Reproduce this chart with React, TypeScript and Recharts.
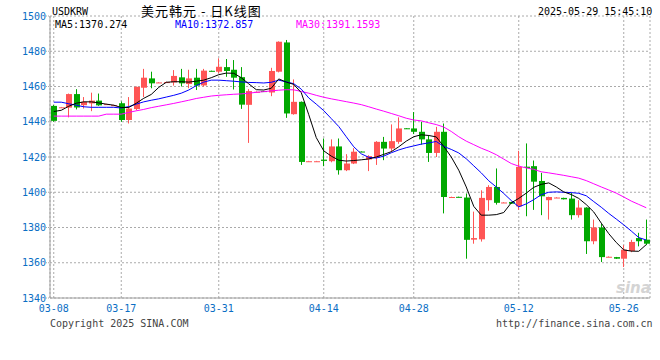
import React from 'react';
import { ComposedChart, Bar, Line, XAxis, YAxis, CartesianGrid } from 'recharts';

// 日K: one candle per day, weekends kept as flat candles
const DATES = [
  '03-08', '03-09', '03-10', '03-11', '03-12', '03-13', '03-14', '03-15', '03-16', '03-17',
  '03-18', '03-19', '03-20', '03-21', '03-22', '03-23', '03-24', '03-25', '03-26', '03-27',
  '03-28', '03-29', '03-31', '04-01', '04-02', '04-03', '04-04', '04-05', '04-06', '04-07',
  '04-08', '04-09', '04-10', '04-11', '04-12', '04-13', '04-14', '04-15', '04-16', '04-17',
  '04-18', '04-19', '04-21', '04-22', '04-23', '04-24', '04-25', '04-26', '04-28', '04-29',
  '04-30', '05-01', '05-02', '05-03', '05-04', '05-05', '05-06', '05-07', '05-08', '05-09',
  '05-10', '05-11', '05-12', '05-13', '05-14', '05-15', '05-16', '05-17', '05-18', '05-19',
  '05-20', '05-21', '05-22', '05-23', '05-24', '05-25', '05-26', '05-27', '05-28', '05-29',
];

const OPEN = [
  1449, 1448.2, 1448, 1455.7, 1449.4, 1450.4, 1452, 1450, 1449.4, 1450.5,
  1441, 1447.2, 1459.3, 1464.6, 1462.3, 1462.5, 1462.3, 1465.2, 1461.4, 1465,
  1460.6, 1468.9, 1468.4, 1471, 1469.5, 1465.3, 1449.6, 1457, 1457.4, 1456.6,
  1468.4, 1485, 1444.3, 1451.3, 1417.6, 1417.6, 1418.5, 1417.6, 1426, 1412.5,
  1416.3, 1423.1, 1418.6, 1419.7, 1428.6, 1424.8, 1428.6, 1436.3, 1436.2, 1434.3,
  1430, 1422.3, 1434.3, 1397.3, 1397.4, 1397, 1373.1, 1373.3, 1395.5, 1403,
  1394.2, 1394.5, 1392, 1414.5, 1414.8, 1406.4, 1395.5, 1397, 1396.8, 1396.4,
  1387, 1391.3, 1372.2, 1380, 1363.4, 1363.2, 1362.3, 1366.7, 1374, 1373.1,
];

const CLOSE = [
  1440.5, 1448.2, 1455.7, 1448.1, 1451.3, 1452, 1449.3, 1450, 1449.4, 1441,
  1447.5, 1459.8, 1465, 1461.8, 1462.3, 1462.5, 1466, 1461.8, 1464.6, 1460.5,
  1469, 1468.7, 1471.2, 1468.8, 1465, 1449.7, 1457.4, 1457, 1457.2, 1468.8,
  1485.4, 1444.7, 1451.3, 1417.2, 1417.6, 1417.6, 1417.8, 1426, 1412.5, 1416.3,
  1423, 1422.9, 1420.5, 1428.6, 1424.8, 1429, 1436.2, 1436.1, 1434.3, 1430,
  1422.3, 1434.3, 1397.3, 1397.3, 1397.2, 1373, 1374, 1396.8, 1403, 1394,
  1394.2, 1393.5, 1414.4, 1413.8, 1406, 1397.7, 1397.3, 1397, 1396, 1387,
  1391.3, 1372.2, 1380, 1363.2, 1363.4, 1362.3, 1367.4, 1371.8, 1372.2, 1370.8,
];

const HIGH = [
  1449.5, 1448.4, 1456, 1458.5, 1454, 1456.5, 1456, 1450.2, 1449.6, 1451.5,
  1454, 1460, 1470, 1468.4, 1462.5, 1462.7, 1469.3, 1470, 1469.5, 1470,
  1470, 1469, 1476, 1475.6, 1475, 1471, 1458.5, 1457.2, 1457.5, 1470.6,
  1485.6, 1486.4, 1464, 1451.5, 1417.8, 1417.8, 1430.5, 1430, 1430.5, 1421.6,
  1425, 1423.2, 1421, 1429, 1431.4, 1438.5, 1442.5, 1436.4, 1445.5, 1440,
  1432.4, 1437.1, 1439, 1397.5, 1397.5, 1399.3, 1389, 1401.1, 1404, 1413.5,
  1394.4, 1394.6, 1423.5, 1427.7, 1418, 1411, 1397.5, 1397.2, 1396.9, 1399.6,
  1395.5, 1391.5, 1384.5, 1382, 1363.6, 1363.3, 1370, 1373, 1377, 1384.5,
];

const LOW = [
  1440, 1448, 1442.5, 1447, 1447.5, 1446, 1449, 1449.8, 1449.2, 1440,
  1439, 1446.5, 1454, 1459, 1462.1, 1462.3, 1460.5, 1460, 1459, 1458,
  1460, 1468.6, 1467.5, 1465.5, 1458.3, 1447.3, 1428, 1456.8, 1457.1, 1454.5,
  1468, 1442.2, 1444, 1415.5, 1417.4, 1417.4, 1414.8, 1417, 1410, 1412,
  1416, 1422.8, 1412, 1415.5, 1418.2, 1423, 1427.5, 1436, 1433, 1427,
  1417.2, 1420, 1388, 1397.1, 1397.1, 1362.3, 1370.8, 1372, 1389.5, 1393,
  1394, 1393.4, 1390, 1386.4, 1390, 1387, 1384.5, 1396.8, 1395.9, 1384.5,
  1385.6, 1365, 1370.5, 1360.4, 1363.2, 1362.2, 1357.6, 1366, 1369.3, 1370,
];

const MA5 = [
  1445.8, 1446.5, 1448.8, 1450.5, 1451.3, 1451.3, 1450.7, 1450, 1449.4, 1448.1,
  1448.1, 1450.5, 1453.3, 1455.5, 1459.5, 1462.4, 1462.7, 1462.7, 1462.5, 1463,
  1463.6, 1465, 1466.7, 1467.6, 1467.5, 1465, 1461.5, 1458.2, 1458, 1459,
  1464.3, 1462.5, 1461.2, 1456.5, 1444, 1431, 1423.5, 1420.5, 1418.2, 1417.7,
  1418, 1418.4, 1418.9, 1420, 1421.5, 1423, 1425.8, 1429, 1431.5, 1432.6,
  1432.2, 1431.4, 1426, 1420, 1412.5, 1403, 1392, 1387, 1387, 1387.3,
  1388.5, 1394, 1396.5, 1399.5, 1402.8, 1404.5, 1405.3, 1403, 1400.2, 1398.7,
  1396.5, 1393, 1388.8, 1382.5, 1376.5, 1371.5, 1367.3, 1366.6, 1366.5, 1370.3,
];

const MA10 = [
  1451.1, 1451.1, 1450.2, 1449.4, 1448.5, 1448.2, 1448.2, 1448.2, 1448.2, 1447.8,
  1448.6, 1450, 1451.3, 1452.2, 1453, 1454, 1455, 1456.2, 1458, 1460.5,
  1462.5, 1463.6, 1463.6, 1463.3, 1463, 1462.6, 1462.3, 1462.2, 1462, 1462.4,
  1463.6, 1462.6, 1461.6, 1458.5, 1453.5, 1450, 1446.3, 1441.8, 1437.3, 1431.5,
  1425.8, 1421.8, 1419.8, 1419.4, 1420.5, 1422.4, 1424, 1425.3, 1426.3, 1427.3,
  1428, 1428.8, 1426, 1424.3, 1422.3, 1419, 1415, 1411, 1406.5, 1403,
  1399.3, 1395.3, 1391.7, 1393.4, 1395.8, 1398.6, 1400, 1400.2, 1400, 1399.8,
  1399.4, 1398, 1394.7, 1391.5, 1388, 1384.8, 1381.5, 1378, 1374.3, 1372.9,
];

const MA30 = [
  1443.2, 1443.2, 1443.2, 1443.2, 1443.2, 1443.2, 1443.2, 1444.3, 1444.3, 1444.3,
  1445.3, 1446.2, 1447, 1448, 1448.8, 1449.6, 1450.4, 1451.3, 1452.2, 1453.2,
  1453.9, 1454.6, 1455, 1455.3, 1455.6, 1455.8, 1456.2, 1456.7, 1457.1, 1457.5,
  1457.9, 1458.2, 1458.1, 1457.2, 1456.2, 1455, 1453.9, 1453, 1452.2, 1451.4,
  1450.6, 1449.7, 1448.5, 1447.2, 1446, 1444.7, 1443.4, 1442, 1441, 1440.5,
  1439.4, 1438.4, 1437, 1434.5, 1431.5, 1429, 1427, 1425, 1423.3, 1421.3,
  1418.8, 1416.3, 1414.8, 1413.8, 1413, 1411.6, 1411, 1410.3, 1409.6, 1408.8,
  1408, 1406.6, 1404.8, 1403, 1401.3, 1399.5, 1397.3, 1395, 1393.1, 1391.2,
];

const TICK_DATES = ['03-08', '03-17', '03-31', '04-14', '04-28', '05-12', '05-26'];
const Y_TICKS = [1340, 1360, 1380, 1400, 1420, 1440, 1460, 1480, 1500];

const RED = '#ff5555';
const GREEN = '#00a800';
const LABEL_BLUE = '#0a6ec4';
const FRAME = '#a0a0a0';
const MONO = '"DejaVu Sans Mono", monospace';

const rows = DATES.map((date, i) => ({
  i,
  date,
  open: OPEN[i],
  close: CLOSE[i],
  high: HIGH[i],
  low: LOW[i],
  range: [LOW[i], HIGH[i]],
  ma5: MA5[i],
  ma10: MA10[i],
  ma30: MA30[i],
}));

const tickIdx = TICK_DATES.map((d) => DATES.indexOf(d));

const Candle = (props: any) => {
  const { x, y, width, height, payload } = props;
  if (!payload || x == null) return null;
  const { open, close, high, low } = payload;
  const color = close >= open ? RED : GREEN;
  const top = height < 0 ? y + height : y;
  const h = Math.abs(height);
  const k = high > low ? h / (high - low) : 0;
  const yo = top + (high - open) * k;
  const yc = top + (high - close) * k;
  const bodyTop = Math.min(yo, yc);
  const bodyH = Math.max(Math.abs(yo - yc), 1);
  const left = Math.round(x);
  const cx = left + Math.floor(width / 2) - 0.5;
  return (
    <g>
      <line x1={cx} x2={cx} y1={top} y2={top + h} stroke={color} strokeWidth={1} />
      <rect x={left} y={bodyTop} width={Math.round(width)} height={bodyH} fill={color} />
    </g>
  );
};

const txt = (extra: React.CSSProperties): React.CSSProperties => ({
  position: 'absolute',
  fontFamily: MONO,
  fontSize: 10,
  lineHeight: '10px',
  whiteSpace: 'pre',
  ...extra,
});

export default function App() {
  return (
    <div style={{ position: 'absolute', left: 0, top: 0, width: 660, height: 360, background: '#fff' }}>
      <ComposedChart
        width={660}
        height={360}
        data={rows}
        margin={{ top: 16, right: 10, bottom: 0, left: 0 }}
      >
        <CartesianGrid stroke="#aaa" strokeDasharray="2 2" />
        <XAxis
          dataKey="i"
          type="number"
          domain={[-0.5, DATES.length - 0.5]}
          ticks={tickIdx}
          interval={0}
          tickFormatter={(v: number) => DATES[v]}
          height={62}
          tickLine={false}
          tickSize={4}
          tickMargin={3}
          allowDataOverflow
          axisLine={{ stroke: FRAME }}
          tick={{ fill: LABEL_BLUE, fontSize: 10, fontFamily: MONO }}
        />
        <XAxis
          xAxisId="top"
          orientation="top"
          type="number"
          domain={[-0.5, DATES.length - 0.5]}
          height={0}
          tick={false}
          tickLine={false}
          allowDataOverflow
          axisLine={{ stroke: FRAME }}
        />
        <YAxis
          domain={[1340, 1500]}
          ticks={Y_TICKS}
          interval={0}
          width={50}
          tickSize={4}
          tickMargin={0}
          allowDataOverflow
          tickLine={{ stroke: '#aaa', strokeDasharray: '1 1' }}
          axisLine={{ stroke: FRAME }}
          tick={{ fill: LABEL_BLUE, fontSize: 10, fontFamily: MONO }}
        />
        <YAxis
          yAxisId="right"
          orientation="right"
          domain={[1340, 1500]}
          width={0}
          tick={false}
          tickLine={false}
          axisLine={{ stroke: FRAME }}
        />
        <Bar dataKey="range" barSize={6} shape={(p: any) => <Candle {...p} />} isAnimationActive={false} />
        <Line dataKey="ma30" stroke="#ff00ff" strokeWidth={1} dot={false} activeDot={false} isAnimationActive={false} />
        <Line dataKey="ma10" stroke="#0000ff" strokeWidth={1} dot={false} activeDot={false} isAnimationActive={false} />
        <Line dataKey="ma5" stroke="#000000" strokeWidth={1} dot={false} activeDot={false} isAnimationActive={false} />
      </ComposedChart>

      <div style={txt({ left: 52, top: 7, color: '#000' })}>USDKRW</div>
      <div
        style={{
          position: 'absolute',
          left: 141,
          top: 4,
          fontFamily: '"Noto Sans CJK SC", sans-serif',
          fontSize: 13,
          lineHeight: '14px',
          height: 14,
          letterSpacing: 1,
          whiteSpace: 'pre',
          color: '#000',
        }}
      >
        美元韩元 - 日K线图
      </div>
      <div style={txt({ left: 538, top: 7, color: '#000' })}>2025-05-29 15:45:10</div>

      <div style={txt({ left: 55, top: 20, color: '#000' })}>MA5:1370.274</div>
      <div style={txt({ left: 175, top: 20, color: '#0000ff' })}>MA10:1372.857</div>
      <div style={txt({ left: 296, top: 20, color: '#ff00ff' })}>MA30:1391.1593</div>

      <div
        style={{
          position: 'absolute',
          left: 616,
          top: 280,
          fontFamily: '"DejaVu Sans", sans-serif',
          fontSize: 15,
          fontStyle: 'italic',
          fontWeight: 'bold',
          lineHeight: '16px',
          color: '#d4d4d4',
        }}
      >
        sina
      </div>

      <div style={txt({ left: 50, top: 319, color: '#444' })}>Copyright 2025 SINA.COM</div>
      <div style={txt({ left: 496, top: 319, color: '#444' })}>http://finance.sina.com.cn</div>
    </div>
  );
}
